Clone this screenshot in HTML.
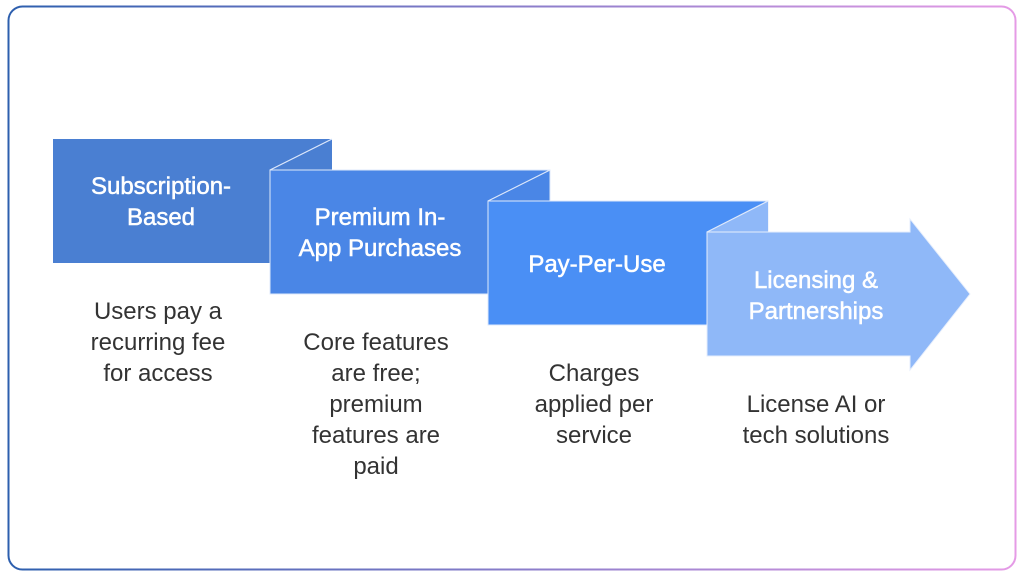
<!DOCTYPE html>
<html><head><style>
html,body{margin:0;padding:0;background:#fff;}
svg text{font-family:"Liberation Sans",sans-serif;}
</style></head><body>
<svg width="1024" height="576" viewBox="0 0 1024 576" xmlns="http://www.w3.org/2000/svg">
<defs><linearGradient id="g" x1="0" x2="1" y1="0" y2="0">
<stop offset="0" stop-color="#2d5fae"/><stop offset="1" stop-color="#e59be6"/></linearGradient></defs>
<rect x="8.5" y="6.5" width="1007" height="563" rx="14" fill="#fff" stroke="url(#g)" stroke-width="2"/>
<rect x="53" y="139" width="279" height="124" fill="#4a7fd2"/>
<rect x="270" y="170" width="280" height="124" fill="#4a86e6" stroke="#dfe9fb" stroke-width="1"/>
<line x1="270" y1="170" x2="332" y2="139" stroke="#dfe9fb" stroke-width="1.2"/>
<rect x="488" y="201" width="280" height="124" fill="#4a8ff5" stroke="#dfe9fb" stroke-width="1"/>
<line x1="488" y1="201" x2="550" y2="170" stroke="#dfe9fb" stroke-width="1.2"/>
<polygon points="707,232 768,201 768,232" fill="#8fb8f8"/>
<polygon points="707,232 910,232 910,219 970,294 910,370 910,356 707,356" fill="#8fb8f8" stroke="#e6eefc" stroke-width="1"/>
<line x1="707" y1="232" x2="768" y2="201" stroke="#dfe9fb" stroke-width="1.2"/>
<g fill="#fff" font-size="24" text-anchor="middle" stroke="#fff" stroke-width="0.5">
<text x="161" y="194">Subscription-</text><text x="161" y="225">Based</text>
<text x="380" y="225">Premium In-</text><text x="380" y="256">App Purchases</text>
<text x="597" y="272">Pay-Per-Use</text>
<text x="816" y="288">Licensing &amp;</text><text x="816" y="319">Partnerships</text>
</g>
<g fill="#333" font-size="24" text-anchor="middle">
<text x="158" y="319">Users pay a</text><text x="158" y="350">recurring fee</text><text x="158" y="381">for access</text>
<text x="376" y="350">Core features</text><text x="376" y="381">are free;</text><text x="376" y="412">premium</text><text x="376" y="443">features are</text><text x="376" y="474">paid</text>
<text x="594" y="381">Charges</text><text x="594" y="412">applied per</text><text x="594" y="443">service</text>
<text x="816" y="412">License AI or</text><text x="816" y="443">tech solutions</text>
</g>
</svg>
</body></html>
